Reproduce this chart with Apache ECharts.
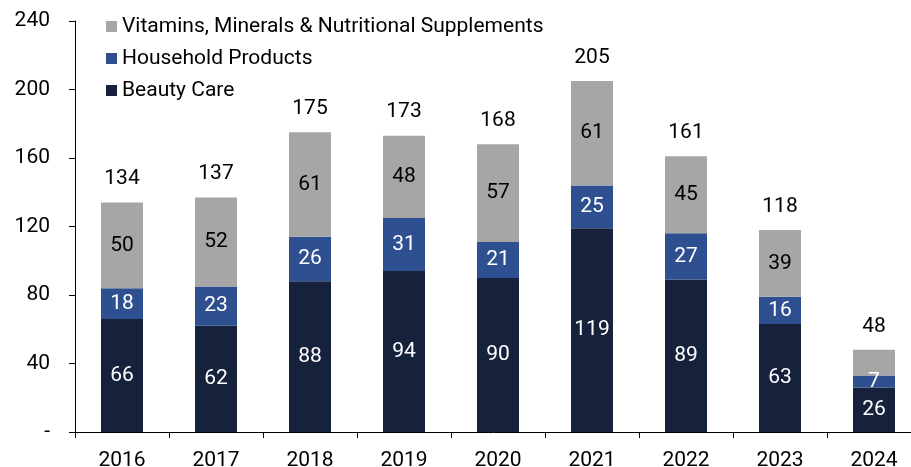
<!DOCTYPE html>
<html><head><meta charset="utf-8">
<script src="https://cdn.jsdelivr.net/npm/echarts@6/dist/echarts.min.js"></script>
<style>html,body{margin:0;padding:0;background:#fff}#c{width:911px;height:467px}</style>
</head><body><div id="c"></div>
<script>
var years = ['2016','2017','2018','2019','2020','2021','2022','2023','2024'];
var beautyCare = [66, 62, 88, 94, 90, 119, 89, 63, 26];
var household = [18, 23, 26, 31, 21, 25, 27, 16, 7];
var vitamins = [50, 52, 61, 48, 57, 61, 45, 39, 15];
var totals = [134, 137, 175, 173, 168, 205, 161, 118, 48];
var yTicks = [0, 40, 80, 120, 160, 200, 240];

var FONT = 'Roboto';
var FS = 21;
var chart = echarts.init(document.getElementById('c'), null, {renderer:'canvas'});
chart.setOption({
  animation: false,
  textStyle: {fontFamily: FONT},
  legend: {
    orient: 'vertical', left: 106, top: 16, padding: 0,
    itemWidth: 11, itemHeight: 11, itemGap: 11,
    icon: 'rect',
    data: ['Vitamins, Minerals & Nutritional Supplements','Household Products','Beauty Care'],
    textStyle: {fontFamily: FONT, fontSize: FS, color: '#000', lineHeight: 21}
  },
  grid: {left: 75, width: 846, top: 21, bottom: 35, containLabel: false, outerBoundsMode: 'none'},
  xAxis: {
    type: 'category', data: years,
    axisLine: {lineStyle: {color: '#000', width: 1}},
    axisTick: {show: true, length: 6, lineStyle: {color: '#000'}},
    axisLabel: {fontFamily: FONT, fontSize: FS, color: '#000', margin: 18}
  },
  yAxis: {
    type: 'value', min: yTicks[0], max: yTicks[yTicks.length-1], interval: 40,
    splitLine: {show: false},
    axisLine: {show: true, lineStyle: {color: '#000', width: 1}},
    axisTick: {show: true, length: 6, lineStyle: {color: '#000'}},
    axisLabel: {fontFamily: FONT, fontSize: FS, color: '#000', margin: 25,
      formatter: function(v){ return v === 0 ? '-' : String(v); }}
  },
  series: [
    {name: 'Beauty Care', type: 'bar', stack: 's', barWidth: 42, data: beautyCare,
     itemStyle: {color: '#16213b'},
     label: {show: true, position: 'inside', color: '#fff', fontFamily: FONT, fontSize: FS}},
    {name: 'Household Products', type: 'bar', stack: 's', data: household,
     itemStyle: {color: '#2e5090'},
     label: {show: true, position: 'inside', color: '#fff', fontFamily: FONT, fontSize: FS}},
    {name: 'Vitamins, Minerals & Nutritional Supplements', type: 'bar', stack: 's', data: vitamins,
     itemStyle: {color: '#a6a6a6'},
     label: {show: true, position: 'inside', color: '#000', fontFamily: FONT, fontSize: FS,
       formatter: function(p){ return p.value < 20 ? '' : String(p.value); }}},
    {name: 'Total', type: 'bar', stack: 's', data: totals.map(function(){return 0;}),
     itemStyle: {color: 'transparent'},
     label: {show: true, position: 'top', distance: 13, color: '#000', fontFamily: FONT, fontSize: FS,
       formatter: function(p){ return String(totals[p.dataIndex]); }}}
  ]
});
</script></body></html>
